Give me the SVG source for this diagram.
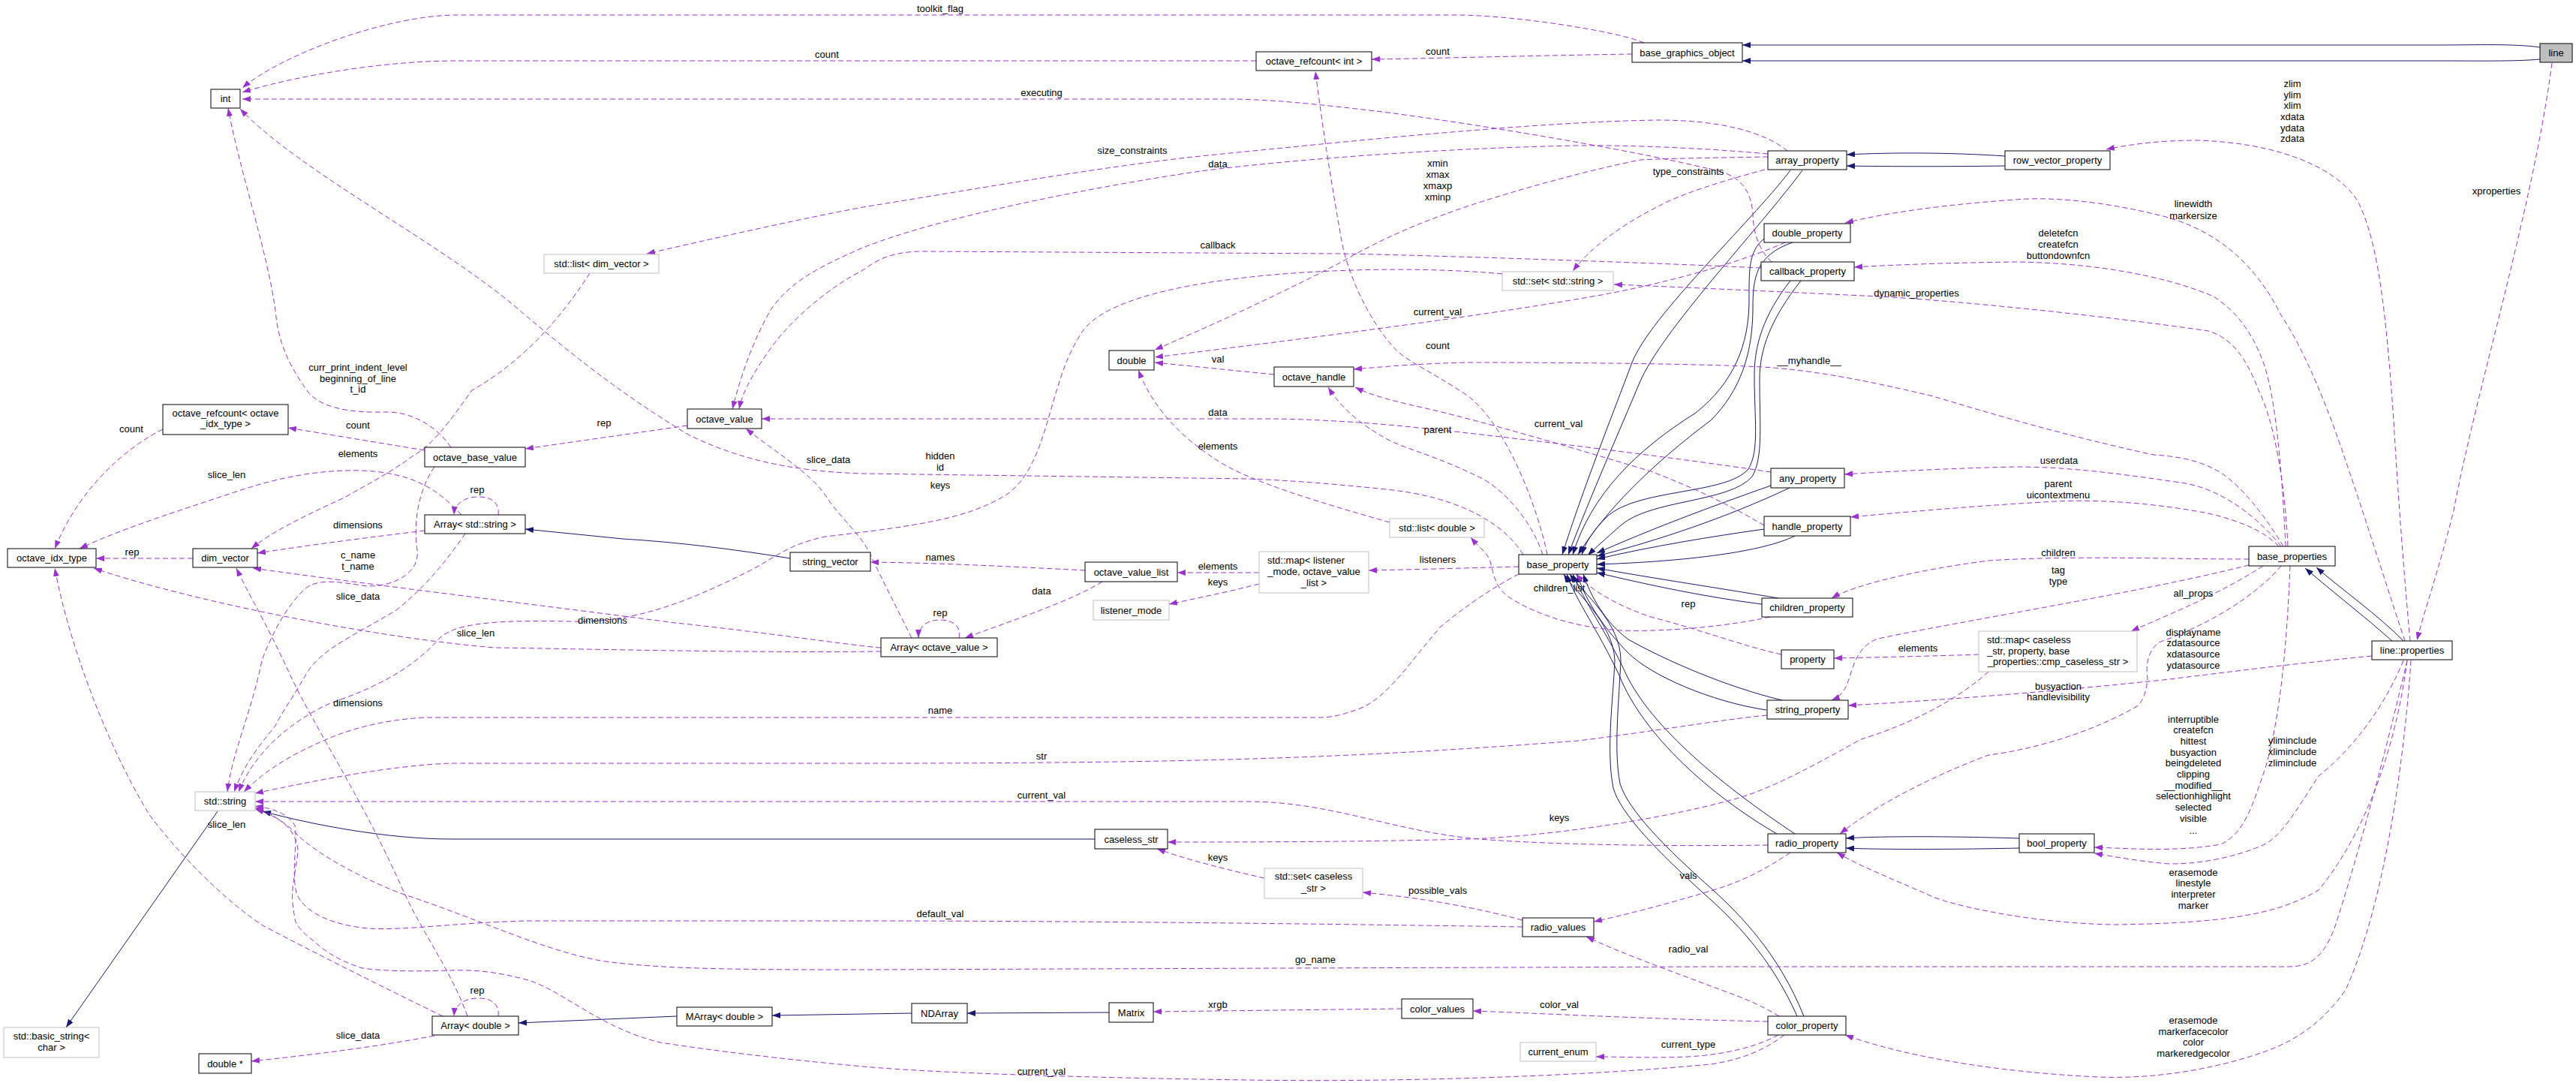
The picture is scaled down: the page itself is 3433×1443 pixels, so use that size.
<svg xmlns="http://www.w3.org/2000/svg" width="3433" height="1443" viewBox="0 0 3433 1443">
<style>
text{font-family:"Liberation Sans",Arial,Helvetica,sans-serif;font-size:13px;fill:#000;text-anchor:middle}
.n rect{fill:#fff;stroke:#000;stroke-width:1}
.g rect{fill:#fff;stroke:#bfbfbf;stroke-width:1}
.r rect{fill:#bfbfbf;stroke:#000;stroke-width:1}
.e{fill:none;stroke:#9a32cd;stroke-width:1;stroke-dasharray:7,4;marker-end:url(#ap)}
.i{fill:none;stroke:#191970;stroke-width:1;marker-end:url(#ab)}
.s{text-anchor:start}
</style>
<defs>
<marker id="ap" markerUnits="userSpaceOnUse" markerWidth="11" markerHeight="8" viewBox="0 0 11 8" refX="11" refY="4" orient="auto"><path d="M0,0 L11,4 L0,8 z" fill="#9a32cd"/></marker>
<marker id="ab" markerUnits="userSpaceOnUse" markerWidth="11" markerHeight="8" viewBox="0 0 11 8" refX="11" refY="4" orient="auto"><path d="M0,0 L11,4 L0,8 z" fill="#191970"/></marker>
</defs>
<rect width="3433" height="1443" fill="#fff"/>
<g id="connectors">
<!-- inheritance -->
<path class="i" d="M3385,63 C3350,58 3300,60 3250,60 L2322,60"/>
<path class="i" d="M3385,79 C3350,82 3300,81 3250,81 L2322,81"/>
<path class="i" d="M2672,208 C2600,203 2520,203 2461,206"/>
<path class="i" d="M2672,221 C2600,222 2520,222 2461,221"/>
<path class="i" d="M2691,1117 C2600,1114 2500,1114 2460,1117"/>
<path class="i" d="M2691,1130 C2600,1132 2500,1132 2460,1130"/>
<path class="i" d="M3188,854 C3150,820 3110,790 3072,757"/>
<path class="i" d="M3203,854 C3170,820 3120,785 3087,756"/>
<path class="i" d="M290,1081 L88,1369"/>
<path class="i" d="M1459,1118 L600,1118 C520,1118 420,1100 350,1081"/>
<path class="i" d="M1053,744 C980,732 900,722 830,718 L700,705"/>
<path class="i" d="M902,1354 L691,1363"/>
<path class="i" d="M1215,1350 L1029,1353"/>
<path class="i" d="M1478,1349 L1289,1350"/>
<path class="i" d="M2386,227 C2330,300 2200,420 2175,483 C2150,550 2110,650 2082,739"/>
<path class="i" d="M2402,227 C2340,310 2215,440 2185,510 C2160,570 2120,660 2090,739"/>
<path class="i" d="M2351,318 C2330,335 2331,360 2331,400 C2331,460 2310,510 2260,550 C2180,600 2120,660 2096,739"/>
<path class="i" d="M2389,323 C2340,340 2336,370 2336,410 C2336,470 2320,520 2280,560 C2200,620 2140,680 2103,739"/>
<path class="i" d="M2386,374 C2350,420 2338,460 2338,500 C2338,560 2345,600 2330,625 C2300,660 2180,650 2140,690 C2122,708 2112,725 2108,739"/>
<path class="i" d="M2400,374 C2360,425 2345,465 2345,505 C2345,565 2350,610 2335,635 C2305,670 2200,665 2160,700 C2142,716 2126,730 2116,740"/>
<path class="i" d="M2360,647 C2280,675 2200,705 2128,737"/>
<path class="i" d="M2385,650 C2300,690 2210,720 2128,741"/>
<path class="i" d="M2351,705 C2280,715 2200,728 2128,745"/>
<path class="i" d="M2392,714 C2350,735 2250,748 2128,752"/>
<path class="i" d="M2370,797 C2300,785 2200,770 2128,757"/>
<path class="i" d="M2348,805 C2270,795 2200,780 2128,763"/>
<path class="i" d="M2375,933 C2300,915 2220,880 2170,852 C2140,830 2120,795 2110,765"/>
<path class="i" d="M2354,946 C2280,935 2200,900 2170,870 C2140,840 2112,800 2102,765"/>
<path class="i" d="M2392,1111 C2300,1050 2200,970 2166,896 C2140,840 2110,800 2096,765"/>
<path class="i" d="M2368,1111 C2280,1060 2190,980 2158,900 C2130,840 2100,800 2088,765"/>
<path class="i" d="M2404,1354 C2370,1270 2320,1220 2283,1186 C2220,1130 2170,1080 2159,1044 C2150,1000 2158,930 2160,880 C2160,830 2110,790 2092,765"/>
<path class="i" d="M2395,1354 C2360,1275 2310,1225 2270,1190 C2210,1135 2160,1085 2150,1050 C2140,1000 2150,930 2152,880 C2150,830 2100,790 2084,765"/>
<!-- usage -->
<path class="e" d="M2191,57 C2150,40 2010,20 1942,20 L609,20 C520,20 380,70 323,117"/>
<path class="e" d="M1674,81 L609,81 C500,81 380,105 323,123"/>
<path class="e" d="M2175,72 C2050,74 1900,78 1828,79"/>
<path class="e" d="M2361,349 C2340,330 2336,300 2336,285 C2334,255 2320,235 2290,228 C2200,205 2000,170 1850,150 C1750,138 1690,132 1634,132 L323,132"/>
<path class="e" d="M2382,201 C2350,175 2290,160 2210,160 C2050,162 1800,188 1590,209 C1450,225 1300,252 1150,276 C1050,295 950,318 862,338"/>
<path class="e" d="M2356,205 C2300,200 2200,193 2100,194 C1900,198 1700,215 1600,228 C1450,250 1250,290 1150,330 C1080,360 1050,380 1027,413 C1000,460 985,510 976,545"/>
<path class="e" d="M2347,357 C2200,350 1900,340 1788,338 L1231,335 C1190,335 1170,345 1150,360 C1110,380 1060,420 1030,460 C1005,495 990,520 985,545"/>
<path class="e" d="M2356,209 C2300,210 2220,211 2186,213 C2100,230 1980,265 1927,285 C1870,305 1820,330 1788,349 C1700,395 1600,440 1539,466"/>
<path class="e" d="M2352,226 C2300,240 2240,258 2210,275 C2160,300 2120,330 2096,361"/>
<path class="e" d="M3049,728 C3045,640 3030,560 3010,520 C2995,480 2975,450 2943,441 C2800,420 2600,400 2503,395 C2400,390 2250,383 2151,379"/>
<path class="e" d="M3046,728 C3040,600 3030,520 3016,482 C3000,440 2980,415 2950,395 C2880,365 2780,350 2686,349 C2600,350 2520,353 2471,356"/>
<path class="e" d="M3205,854 C3180,780 3140,650 3107,560 C3080,490 3060,450 3040,420 C3000,340 2940,300 2870,285 C2800,268 2730,262 2686,266 C2600,272 2520,282 2459,297"/>
<path class="e" d="M3212,854 C3205,780 3195,650 3190,560 C3180,420 3170,320 3141,266 C3110,220 3030,190 2928,187 C2880,187 2840,192 2807,199"/>
<path class="e" d="M3401,84 C3375,280 3300,520 3270,680 C3250,760 3232,810 3221,853"/>
<path class="e" d="M2379,323 C2330,345 2250,370 2150,390 C2000,418 1750,450 1539,476"/>
<path class="e" d="M1698,499 L1539,483"/>
<path class="e" d="M2062,739 C2050,680 2010,570 1957,528 C1900,490 1870,480 1854,459 C1820,420 1795,360 1788,321 C1770,220 1760,150 1753,95"/>
<path class="e" d="M2056,739 C2040,690 2000,650 1974,637 C1920,610 1880,600 1854,588 C1810,565 1785,540 1770,516"/>
<path class="e" d="M2351,700 C2300,670 2257,650 2200,628 C2100,598 1990,565 1900,544 C1860,535 1830,528 1806,516"/>
<path class="e" d="M2360,629 C2200,605 1950,575 1850,566 C1780,560 1720,558 1693,558 L1015,558"/>
<path class="e" d="M1852,696 C1760,670 1660,640 1620,612 C1570,580 1535,540 1517,493"/>
<path class="e" d="M2030,739 C2000,690 1930,660 1847,652 C1780,645 1720,640 1663,638 L1150,631 C1050,628 980,610 917,579 C820,520 760,470 700,420 C600,330 400,230 320,145"/>
<path class="e" d="M2002,365 C1850,350 1500,360 1443,441 C1395,510 1400,620 1340,660 C1290,690 1230,700 1100,715 C1050,725 1030,745 1000,760 C920,800 850,830 760,828 C660,826 610,830 587,849 C560,880 520,910 440,937 C390,960 340,1000 318,1055"/>
<path class="e" d="M2024,755 C1950,757 1880,759 1824,760"/>
<path class="e" d="M1678,763 L1569,763"/>
<path class="e" d="M1678,778 C1640,788 1600,796 1558,805"/>
<path class="e" d="M1446,760 C1350,755 1250,750 1160,749"/>
<path class="e" d="M1469,775 C1430,800 1340,830 1286,850"/>
<path class="e" d="M1278,850 C1282,835 1270,826 1253,826 C1236,826 1224,834 1224,850"/>
<path class="e" d="M664,686 C666,670 655,662 638,662 C620,662 606,670 605,686"/>
<path class="e" d="M664,1354 C666,1338 655,1330 638,1330 C620,1330 606,1338 605,1354"/>
<path class="e" d="M1215,850 C1190,800 1172,765 1158,735 C1145,710 1118,688 1100,660 C1080,630 1030,600 994,571"/>
<path class="e" d="M1174,863 C1150,862 1000,840 900,830 C750,810 500,780 337,757"/>
<path class="e" d="M1174,868 C1000,870 800,865 660,863 C500,850 250,800 125,757"/>
<path class="e" d="M566,600 L384,570"/>
<path class="e" d="M217,572 C180,590 110,640 73,731"/>
<path class="e" d="M601,596 C580,565 545,548 513,549 C470,550 430,545 411,523 C380,480 370,450 367,413 C355,330 320,230 304,144"/>
<path class="e" d="M916,567 L700,598"/>
<path class="e" d="M615,686 C590,660 560,630 482,627 C420,625 360,640 321,653 C240,680 160,705 106,731"/>
<path class="e" d="M786,364 C750,420 700,480 629,520 C600,560 580,590 551,607 C520,630 490,645 459,663 C400,690 360,710 335,731"/>
<path class="e" d="M566,707 C500,715 420,725 343,737"/>
<path class="e" d="M579,622 C560,650 550,690 556,733 C560,770 510,785 482,780 C450,775 420,770 404,787 C380,810 360,850 349,880 C335,950 310,1000 303,1055"/>
<path class="e" d="M620,711 C600,740 570,780 528,813 C500,830 480,840 459,853 C430,870 415,885 407,900 C390,930 375,950 367,967 C340,1000 325,1020 312,1055"/>
<path class="e" d="M257,744 L128,744"/>
<path class="e" d="M590,1354 C520,1320 420,1270 350,1233 C300,1200 240,1140 200,1087 C140,990 90,850 73,757"/>
<path class="e" d="M623,1354 C600,1290 560,1240 533,1177 C480,1060 420,970 387,900 C350,820 330,790 315,757"/>
<path class="e" d="M579,1380 C500,1395 420,1405 335,1414"/>
<path class="e" d="M1868,1344 L1537,1348"/>
<path class="e" d="M2356,1361 C2200,1358 2050,1350 1963,1347"/>
<path class="e" d="M2370,1379 C2340,1395 2300,1405 2250,1408 C2200,1410 2160,1408 2127,1408"/>
<path class="e" d="M2371,1354 C2340,1335 2310,1325 2283,1315 C2230,1295 2160,1270 2114,1248"/>
<path class="e" d="M2386,1136 C2350,1160 2320,1175 2283,1186 C2220,1205 2170,1218 2124,1228"/>
<path class="e" d="M2029,1226 C1950,1205 1880,1195 1816,1189"/>
<path class="e" d="M1685,1170 C1640,1160 1580,1145 1542,1131"/>
<path class="e" d="M2029,1235 C1700,1230 1400,1227 1150,1227 L700,1227 C600,1230 540,1240 490,1237 C440,1232 405,1215 395,1190 C388,1160 397,1120 393,1100 C385,1085 365,1077 340,1074"/>
<path class="e" d="M3208,880 C3180,1000 3140,1150 3110,1240 C3095,1275 3080,1288 3050,1288 L2283,1288 L1150,1292 C1000,1292 880,1292 800,1280 C720,1265 640,1225 533,1190 C470,1165 420,1135 397,1113 C385,1100 365,1085 340,1076"/>
<path class="e" d="M2378,1379 C2350,1400 2320,1412 2280,1418 C2100,1435 1850,1442 1663,1439 C1450,1436 1250,1430 1150,1421 C1050,1412 950,1400 880,1389 C800,1370 750,1320 704,1306 C660,1294 630,1292 600,1293 C560,1294 520,1295 483,1290 C450,1280 430,1265 417,1253 C400,1240 393,1230 393,1223 C388,1200 390,1190 390,1183 C393,1160 397,1140 397,1133 C395,1110 380,1090 340,1078"/>
<path class="e" d="M2356,1126 C2200,1128 2050,1125 1960,1117 C1850,1105 1770,1068 1663,1068 L340,1068"/>
<path class="e" d="M2650,895 C2600,940 2530,970 2480,985 C2400,1030 2350,1055 2307,1066 C2200,1095 2050,1115 1957,1118 C1800,1122 1650,1122 1556,1122"/>
<path class="e" d="M2355,953 C2300,958 2200,975 2103,987 C1800,1010 1600,1017 1150,1017 L601,1017 C520,1020 420,1040 340,1057"/>
<path class="e" d="M2024,765 C1990,782 1950,810 1920,835 C1880,880 1850,930 1810,945 C1790,952 1775,956 1759,956 L565,956 C500,960 460,975 440,983 C400,1000 360,1020 325,1055"/>
<path class="e" d="M2359,822 C2300,835 2220,842 2159,840 C2090,835 2040,815 2010,795 C1990,780 1990,760 1985,745 C1980,735 1970,728 1960,716"/>
<path class="e" d="M2374,872 C2320,860 2270,840 2200,822 C2150,805 2120,785 2100,765"/>
<path class="e" d="M2997,745 C2900,745 2750,740 2650,747 C2550,760 2470,780 2441,797"/>
<path class="e" d="M2997,753 C2850,790 2600,830 2503,851 C2470,862 2468,900 2460,915 C2455,925 2448,930 2441,933"/>
<path class="e" d="M3016,754 C2960,790 2900,815 2840,841"/>
<path class="e" d="M3040,754 C3010,790 2950,830 2877,856 C2860,870 2860,890 2862,904 C2860,925 2855,935 2848,941 C2780,980 2700,1000 2650,1006 C2560,1040 2490,1080 2452,1111"/>
<path class="e" d="M3161,874 C3000,890 2900,905 2862,908 C2700,925 2550,935 2463,940"/>
<path class="e" d="M3052,754 C3048,850 3040,950 3020,1020 C3000,1080 2990,1110 2960,1125 C2900,1135 2850,1131 2791,1129"/>
<path class="e" d="M3203,880 C3170,960 3120,1010 3090,1034 C3060,1080 3040,1115 3016,1126 C2960,1150 2900,1153 2880,1150 C2840,1146 2810,1140 2791,1137"/>
<path class="e" d="M3208,880 C3195,980 3160,1100 3090,1186 C3040,1215 2980,1230 2818,1232 C2700,1230 2600,1205 2576,1195 C2520,1170 2480,1155 2448,1136"/>
<path class="e" d="M3213,880 C3205,1000 3180,1200 3126,1319 C3090,1370 3050,1390 3016,1402 C2950,1425 2870,1438 2796,1435 C2650,1428 2530,1405 2459,1379"/>
<path class="e" d="M3040,728 C3010,690 2960,650 2906,643 C2830,632 2760,622 2686,622 C2600,624 2520,628 2458,632"/>
<path class="e" d="M3037,728 C3020,710 2990,695 2943,684 C2870,670 2790,664 2723,669 C2620,675 2530,683 2466,689"/>
<path class="e" d="M3043,728 C3020,690 2990,650 2960,630 C2930,612 2900,608 2870,606 C2750,580 2650,550 2576,528 C2480,505 2400,490 2327,488 C2200,483 2000,483 1957,483 C1900,484 1850,488 1804,492"/>
<path class="e" d="M2637,872 C2580,874 2500,876 2444,877"/>
<!-- edge labels -->
<text x="1253" y="16">toolkit_flag</text>
<text x="1102" y="77">count</text>
<text x="1916" y="73">count</text>
<text x="1388" y="128">executing</text>
<text x="1509" y="205">size_constraints</text>
<text x="1623" y="223">data</text>
<text x="1623" y="331">callback</text>
<text x="1916" y="222">xmin</text>
<text x="1916" y="237">xmax</text>
<text x="1916" y="252">xmaxp</text>
<text x="1916" y="267">xminp</text>
<text x="2250" y="233">type_constraints</text>
<text x="2554" y="395">dynamic_properties</text>
<text x="2743" y="315">deletefcn</text>
<text x="2743" y="330">createfcn</text>
<text x="2743" y="345">buttondownfcn</text>
<text x="2923" y="276">linewidth</text>
<text x="2923" y="292">markersize</text>
<text x="3055" y="116">zlim</text>
<text x="3055" y="131">ylim</text>
<text x="3055" y="145">xlim</text>
<text x="3055" y="160">xdata</text>
<text x="3055" y="175">ydata</text>
<text x="3055" y="189">zdata</text>
<text x="3327" y="259">xproperties</text>
<text x="1916" y="420">current_val</text>
<text x="1623" y="483">val</text>
<text x="1916" y="465">count</text>
<text x="1916" y="577">parent</text>
<text x="2077" y="569">current_val</text>
<text x="1623" y="554">data</text>
<text x="1623" y="599">elements</text>
<text x="1253" y="612">hidden</text>
<text x="1253" y="627">id</text>
<text x="1253" y="651">keys</text>
<text x="2411" y="485">__myhandle__</text>
<text x="1916" y="750">listeners</text>
<text x="1623" y="759">elements</text>
<text x="1623" y="780">keys</text>
<text x="1253" y="747">names</text>
<text x="1388" y="792">data</text>
<text x="1253" y="821">rep</text>
<text x="1104" y="617">slice_data</text>
<text x="803" y="831">dimensions</text>
<text x="634" y="848">slice_len</text>
<text x="477" y="571">count</text>
<text x="175" y="576">count</text>
<text x="477" y="494">curr_print_indent_level</text>
<text x="477" y="509">beginning_of_line</text>
<text x="477" y="523">t_id</text>
<text x="805" y="568">rep</text>
<text x="302" y="637">slice_len</text>
<text x="636" y="657">rep</text>
<text x="477" y="609">elements</text>
<text x="477" y="704">dimensions</text>
<text x="477" y="744">c_name</text>
<text x="477" y="759">t_name</text>
<text x="477" y="799">slice_data</text>
<text x="176" y="740">rep</text>
<text x="477" y="941">dimensions</text>
<text x="302" y="1103">slice_len</text>
<text x="636" y="1324">rep</text>
<text x="477" y="1384">slice_data</text>
<text x="1623" y="1343">xrgb</text>
<text x="2078" y="1343">color_val</text>
<text x="2250" y="1396">current_type</text>
<text x="2250" y="1269">radio_val</text>
<text x="2250" y="1171">vals</text>
<text x="1916" y="1191">possible_vals</text>
<text x="1623" y="1147">keys</text>
<text x="1253" y="1222">default_val</text>
<text x="1753" y="1283">go_name</text>
<text x="1388" y="1432">current_val</text>
<text x="1388" y="1064">current_val</text>
<text x="2078" y="1094">keys</text>
<text x="1388" y="1012">str</text>
<text x="1253" y="951">name</text>
<text x="2078" y="788">children_list</text>
<text x="2250" y="809">rep</text>
<text x="2743" y="741">children</text>
<text x="2743" y="764">tag</text>
<text x="2743" y="779">type</text>
<text x="2923" y="795">all_props</text>
<text x="2743" y="919">busyaction</text>
<text x="2743" y="933">handlevisibility</text>
<text x="2923" y="847">displayname</text>
<text x="2923" y="861">zdatasource</text>
<text x="2923" y="876">xdatasource</text>
<text x="2923" y="891">ydatasource</text>
<text x="2923" y="963">interruptible</text>
<text x="2923" y="977">createfcn</text>
<text x="2923" y="992">hittest</text>
<text x="2923" y="1007">busyaction</text>
<text x="2923" y="1021">beingdeleted</text>
<text x="2923" y="1036">clipping</text>
<text x="2923" y="1051">__modified__</text>
<text x="2923" y="1065">selectionhighlight</text>
<text x="2923" y="1080">selected</text>
<text x="2923" y="1095">visible</text>
<text x="2923" y="1111">...</text>
<text x="3055" y="991">yliminclude</text>
<text x="3055" y="1006">xliminclude</text>
<text x="3055" y="1021">zliminclude</text>
<text x="2923" y="1167">erasemode</text>
<text x="2923" y="1181">linestyle</text>
<text x="2923" y="1196">interpreter</text>
<text x="2923" y="1211">marker</text>
<text x="2923" y="1364">erasemode</text>
<text x="2923" y="1379">markerfacecolor</text>
<text x="2923" y="1393">color</text>
<text x="2923" y="1408">markeredgecolor</text>
<text x="2744" y="618">userdata</text>
<text x="2743" y="649">parent</text>
<text x="2743" y="664">uicontextmenu</text>
<text x="2556" y="868">elements</text>
</g>
<g id="n_int" class="n"><rect x="281" y="119" width="39" height="25"/><text x="300.5" y="136">int</text></g>
<g id="n_refcount_int" class="n"><rect x="1674" y="69" width="154" height="25"/><text x="1751" y="86">octave_refcount&lt; int &gt;</text></g>
<g id="n_base_graphics_object" class="n"><rect x="2175" y="57" width="147" height="26"/><text x="2248.5" y="74.5">base_graphics_object</text></g>
<g id="n_line" class="r"><rect x="3385" y="58" width="43" height="25"/><text x="3406.5" y="75">line</text></g>
<g id="n_list_dim_vector" class="g"><rect x="725" y="339" width="153" height="25"/><text x="801.5" y="356">std::list&lt; dim_vector &gt;</text></g>
<g id="n_octave_value" class="n"><rect x="916" y="545" width="99" height="26"/><text x="965.5" y="562.5">octave_value</text></g>
<g id="n_refcount_oit" class="n"><rect x="217" y="539" width="167" height="40"/><text x="300.5" y="555">octave_refcount&lt; octave</text><text x="300.5" y="569">_idx_type &gt;</text></g>
<g id="n_octave_base_value" class="n"><rect x="566" y="596" width="134" height="26"/><text x="633" y="613.5">octave_base_value</text></g>
<g id="n_array_string" class="n"><rect x="566" y="686" width="134" height="25"/><text x="633" y="703">Array&lt; std::string &gt;</text></g>
<g id="n_octave_idx_type" class="n"><rect x="10" y="731" width="118" height="25"/><text x="69" y="748">octave_idx_type</text></g>
<g id="n_dim_vector" class="n"><rect x="257" y="731" width="86" height="25"/><text x="300" y="748">dim_vector</text></g>
<g id="n_string_vector" class="n"><rect x="1053" y="736" width="107" height="25"/><text x="1106.5" y="753">string_vector</text></g>
<g id="n_std_string" class="g"><rect x="260" y="1055" width="80" height="25"/><text x="300" y="1072">std::string</text></g>
<g id="n_basic_string" class="g"><rect x="5" y="1369" width="127" height="40"/><text x="68.5" y="1385">std::basic_string&lt;</text><text x="68.5" y="1400">char &gt;</text></g>
<g id="n_array_double" class="n"><rect x="576" y="1354" width="115" height="25"/><text x="633.5" y="1371">Array&lt; double &gt;</text></g>
<g id="n_double_ptr" class="n"><rect x="265" y="1404" width="70" height="26"/><text x="300" y="1421.5">double *</text></g>
<g id="n_marray_double" class="n"><rect x="902" y="1342" width="127" height="25"/><text x="965.5" y="1359">MArray&lt; double &gt;</text></g>
<g id="n_octave_value_list" class="n"><rect x="1446" y="749" width="123" height="26"/><text x="1507.5" y="766.5">octave_value_list</text></g>
<g id="n_map_listener" class="g"><rect x="1678" y="735" width="146" height="55"/><text class="s" x="1689" y="751">std::map&lt; listener</text><text x="1751" y="766">_mode, octave_value</text><text x="1751" y="781">_list &gt;</text></g>
<g id="n_listener_mode" class="g"><rect x="1457" y="800" width="101" height="26"/><text x="1507.5" y="817.5">listener_mode</text></g>
<g id="n_base_property" class="n"><rect x="2024" y="739" width="104" height="26"/><text x="2076" y="756.5">base_property</text></g>
<g id="n_array_octave_value" class="n"><rect x="1174" y="850" width="155" height="25"/><text x="1251.5" y="867">Array&lt; octave_value &gt;</text></g>
<g id="n_caseless_str" class="n"><rect x="1459" y="1105" width="97" height="26"/><text x="1507.5" y="1122.5">caseless_str</text></g>
<g id="n_set_caseless" class="g"><rect x="1685" y="1157" width="131" height="40"/><text x="1750.5" y="1172">std::set&lt; caseless</text><text x="1750.5" y="1188">_str &gt;</text></g>
<g id="n_radio_values" class="n"><rect x="2029" y="1223" width="95" height="25"/><text x="2076.5" y="1240">radio_values</text></g>
<g id="n_ndarray" class="n"><rect x="1215" y="1337" width="74" height="26"/><text x="1252" y="1354.5">NDArray</text></g>
<g id="n_matrix" class="n"><rect x="1478" y="1336" width="59" height="26"/><text x="1507.5" y="1353.5">Matrix</text></g>
<g id="n_color_values" class="n"><rect x="1868" y="1331" width="95" height="26"/><text x="1915.5" y="1348.5">color_values</text></g>
<g id="n_current_enum" class="g"><rect x="2026" y="1389" width="101" height="25"/><text x="2076.5" y="1406">current_enum</text></g>
<g id="n_double" class="n"><rect x="1478" y="467" width="60" height="26"/><text x="1508" y="484.5">double</text></g>
<g id="n_octave_handle" class="n"><rect x="1698" y="489" width="106" height="26"/><text x="1751" y="506.5">octave_handle</text></g>
<g id="n_set_string" class="g"><rect x="2002" y="362" width="148" height="25"/><text x="2076" y="379">std::set&lt; std::string &gt;</text></g>
<g id="n_list_double" class="g"><rect x="1852" y="691" width="126" height="25"/><text x="1915" y="708">std::list&lt; double &gt;</text></g>
<g id="n_array_property" class="n"><rect x="2356" y="201" width="105" height="25"/><text x="2408.5" y="218">array_property</text></g>
<g id="n_row_vector_property" class="n"><rect x="2672" y="201" width="140" height="25"/><text x="2742" y="218">row_vector_property</text></g>
<g id="n_double_property" class="n"><rect x="2351" y="298" width="115" height="25"/><text x="2408.5" y="315">double_property</text></g>
<g id="n_callback_property" class="n"><rect x="2347" y="349" width="124" height="25"/><text x="2409" y="366">callback_property</text></g>
<g id="n_any_property" class="n"><rect x="2360" y="624" width="98" height="26"/><text x="2409" y="641.5">any_property</text></g>
<g id="n_handle_property" class="n"><rect x="2351" y="688" width="115" height="26"/><text x="2408.5" y="705.5">handle_property</text></g>
<g id="n_base_properties" class="n"><rect x="2997" y="728" width="115" height="26"/><text x="3054.5" y="745.5">base_properties</text></g>
<g id="n_children_property" class="n"><rect x="2348" y="797" width="121" height="25"/><text x="2408.5" y="814">children_property</text></g>
<g id="n_property" class="n"><rect x="2374" y="866" width="70" height="25"/><text x="2409" y="883">property</text></g>
<g id="n_map_caseless" class="g"><rect x="2637" y="841" width="211" height="54"/><text class="s" x="2648" y="857">std::map&lt; caseless</text><text class="s" x="2648" y="872">_str, property, base</text><text x="2742.5" y="886">_properties::cmp_caseless_str &gt;</text></g>
<g id="n_string_property" class="n"><rect x="2355" y="933" width="108" height="25"/><text x="2409" y="950">string_property</text></g>
<g id="n_line_properties" class="n"><rect x="3161" y="854" width="107" height="25"/><text x="3214.5" y="871">line::properties</text></g>
<g id="n_radio_property" class="n"><rect x="2356" y="1111" width="104" height="25"/><text x="2408" y="1128">radio_property</text></g>
<g id="n_bool_property" class="n"><rect x="2691" y="1111" width="100" height="25"/><text x="2741" y="1128">bool_property</text></g>
<g id="n_color_property" class="n"><rect x="2356" y="1354" width="104" height="25"/><text x="2408" y="1371">color_property</text></g>
</svg>
